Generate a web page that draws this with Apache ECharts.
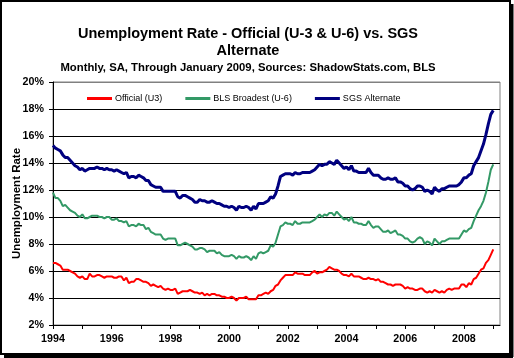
<!DOCTYPE html>
<html>
<head>
<meta charset="utf-8">
<script src="https://cdn.jsdelivr.net/npm/echarts@6/dist/echarts.min.js"></script>
<style>
html,body{margin:0;padding:0;background:#fff;}
#chart{width:514px;height:358px;}
</style>
</head>
<body>
<div id="chart"></div>
<script>
// Monthly data, Jan 1994 through Jan 2009
const startYear = 1994;
const seriesNames = ["Official (U3)", "BLS Broadest (U-6)", "SGS Alternate"];

const officialU3 = [
  6.6, 6.6, 6.5, 6.4, 6.1, 6.1, 6.1, 6.0, 5.9, 5.8, 5.6, 5.5,
  5.6, 5.4, 5.4, 5.8, 5.6, 5.6, 5.7, 5.7, 5.6, 5.5, 5.6, 5.6,
  5.6, 5.5, 5.5, 5.6, 5.6, 5.3, 5.5, 5.1, 5.2, 5.2, 5.4, 5.4,
  5.3, 5.2, 5.2, 5.1, 4.9, 5.0, 4.9, 4.8, 4.9, 4.7, 4.6, 4.7,
  4.6, 4.6, 4.7, 4.3, 4.4, 4.5, 4.5, 4.5, 4.6, 4.5, 4.4, 4.4,
  4.3, 4.4, 4.2, 4.3, 4.2, 4.3, 4.3, 4.2, 4.2, 4.1, 4.1, 4.0,
  4.0, 4.1, 4.0, 3.8, 4.0, 4.0, 4.0, 4.1, 3.9, 3.9, 3.9, 3.9,
  4.2, 4.2, 4.3, 4.4, 4.3, 4.5, 4.6, 4.9, 5.0, 5.3, 5.5, 5.7,
  5.7, 5.7, 5.7, 5.9, 5.8, 5.8, 5.8, 5.7, 5.7, 5.7, 5.9, 6.0,
  5.8, 5.9, 5.9, 6.0, 6.1, 6.3, 6.2, 6.1, 6.1, 6.0, 5.8, 5.7,
  5.7, 5.6, 5.8, 5.6, 5.6, 5.6, 5.5, 5.4, 5.4, 5.5, 5.4, 5.4,
  5.3, 5.4, 5.2, 5.2, 5.1, 5.0, 5.0, 4.9, 5.0, 5.0, 5.0, 4.9,
  4.7, 4.8, 4.7, 4.7, 4.6, 4.6, 4.7, 4.7, 4.5, 4.4, 4.5, 4.4,
  4.6, 4.5, 4.4, 4.5, 4.4, 4.6, 4.7, 4.6, 4.7, 4.7, 4.7, 5.0,
  5.0, 4.8, 5.1, 5.0, 5.4, 5.5, 5.8, 6.1, 6.2, 6.6, 6.8, 7.2,
  7.6
];

const broadestU6 = [
  11.8, 11.4, 11.4, 11.2, 10.8, 10.9, 10.7, 10.5, 10.4, 10.3, 10.1, 10.0,
  10.2, 9.9, 9.9, 10.0, 10.1, 10.1, 10.1, 10.0, 10.0, 9.9, 10.0, 10.0,
  9.8, 9.8, 9.9, 9.7, 9.7, 9.6, 9.7, 9.3, 9.4, 9.4, 9.3, 9.5,
  9.4, 9.4, 9.1, 9.2, 8.9, 8.8, 8.7, 8.7, 8.7, 8.4, 8.3, 8.4,
  8.4, 8.4, 8.4, 7.9, 7.9, 8.0, 8.1, 8.0, 7.9, 7.8, 7.6, 7.6,
  7.7, 7.7, 7.6, 7.4, 7.5, 7.5, 7.5, 7.3, 7.4, 7.2, 7.1, 7.1,
  7.1, 7.2, 7.1, 6.9, 7.1, 7.0, 7.0, 7.1, 7.0, 6.8, 7.1, 6.9,
  7.3, 7.4, 7.3, 7.4, 7.5, 7.9, 7.8, 8.1, 8.7, 9.3, 9.4, 9.6,
  9.5, 9.5, 9.4, 9.7, 9.5, 9.5, 9.6, 9.6, 9.6, 9.6, 9.7, 9.8,
  10.0, 10.2, 10.0, 10.2, 10.1, 10.3, 10.3, 10.1, 10.4, 10.2, 10.0, 9.8,
  9.9, 9.7, 10.0, 9.6, 9.6, 9.5, 9.5, 9.4, 9.4, 9.7, 9.4, 9.2,
  9.3, 9.3, 9.1, 8.9, 8.9, 9.0, 8.8, 8.9, 9.0, 8.7, 8.7, 8.6,
  8.4, 8.4, 8.2, 8.1, 8.2, 8.4, 8.5, 8.4, 8.0, 8.2, 8.1, 7.9,
  8.4, 8.2, 8.0, 8.2, 8.2, 8.3, 8.4, 8.4, 8.4, 8.4, 8.4, 8.7,
  9.0, 8.9, 9.1, 9.2, 9.7, 10.1, 10.5, 10.8, 11.2, 11.8, 12.6, 13.5,
  13.9
];

const sgsAlternate = [
  15.3, 15.1, 15.0, 14.9, 14.6, 14.4, 14.4, 14.2, 14.0, 13.8, 13.7, 13.5,
  13.6, 13.4, 13.5, 13.6, 13.6, 13.6, 13.7, 13.6, 13.6, 13.5, 13.6, 13.5,
  13.5, 13.4, 13.5, 13.4, 13.3, 13.2, 13.3, 12.9, 13.0, 13.0, 12.9, 13.1,
  13.0, 12.9, 12.7, 12.7, 12.4, 12.3, 12.2, 12.2, 12.2, 11.9, 11.9, 11.9,
  11.9, 11.9, 11.9, 11.5, 11.4, 11.6, 11.6, 11.5, 11.4, 11.3, 11.1, 11.1,
  11.3, 11.2, 11.2, 11.1, 11.1, 11.2, 11.1, 11.0, 11.0, 10.9, 10.8, 10.8,
  10.7, 10.8, 10.7, 10.5, 10.8, 10.7, 10.7, 10.8, 10.7, 10.5, 10.8, 10.6,
  11.0, 11.0, 11.0, 11.1, 11.2, 11.5, 11.4, 11.7, 12.3, 13.0, 13.1, 13.2,
  13.2, 13.2, 13.1, 13.3, 13.2, 13.2, 13.3, 13.3, 13.3, 13.3, 13.4, 13.5,
  13.7, 13.9, 13.8, 13.9, 13.9, 14.1, 14.0, 13.9, 14.2, 14.0, 13.8, 13.6,
  13.7, 13.5, 13.8, 13.4, 13.4, 13.3, 13.3, 13.3, 13.3, 13.6, 13.3, 13.1,
  13.1, 13.1, 12.9, 12.8, 12.8, 12.9, 12.8, 12.8, 12.9, 12.6, 12.6, 12.5,
  12.3, 12.3, 12.1, 12.0, 12.1, 12.3, 12.3, 12.2, 11.9, 12.0, 11.9, 11.7,
  12.2, 12.0, 11.9, 12.1, 12.1, 12.2, 12.3, 12.3, 12.3, 12.3, 12.4, 12.6,
  12.9, 12.9, 13.1, 13.2, 13.8, 14.1, 14.4, 14.9, 15.4, 16.1, 16.9, 17.6,
  17.9
];

const xTickYears = [1994,1995,1996,1997,1998,1999,2000,2001,2002,2003,2004,2005,2006,2007,2008,2009];
const xLabelYears = [1994,1996,1998,2000,2002,2004,2006,2008];
const yTicks = [2,4,6,8,10,12,14,16,18,20];

function toPoints(arr) {
  return arr.map((v, i) => [startYear + i / 12, v]);
}

const chart = echarts.init(document.getElementById('chart'), null, {renderer: 'canvas'});

const splitColors = yTicks.map((t, i) => i === yTicks.length - 1 ? '#808080' : '#000000');
const FONT = 'Arial, "Liberation Sans", sans-serif';

const option = {
  animation: false,
  backgroundColor: '#ffffff',
  textStyle: {fontFamily: FONT},
  grid: {left: 53, top: 82, right: 14, bottom: 33, containLabel: false, outerBoundsMode: 'none',
    show: true, borderColor: '#808080', borderWidth: 1, backgroundColor: '#ffffff'},
  legend: {
    left: 87, top: 94, itemGap: 23, itemWidth: 25, itemHeight: 3, padding: 0, icon: 'rect',
    textStyle: {fontSize: 9, color: '#000', fontFamily: FONT, padding: [0,0,0,-2]},
    data: seriesNames
  },
  xAxis: {
    type: 'value', min: 1994, max: 2009.23, interval: 1,
    axisLine: {show: true, onZero: false, lineStyle: {color: '#000', width: 1}},
    axisTick: {show: true, length: 4, customValues: xTickYears, lineStyle: {color: '#000'}},
    axisLabel: {customValues: xLabelYears, margin: 9, fontSize: 10.7, fontWeight: 'bold', color: '#000',
      fontFamily: FONT, formatter: v => String(Math.round(v))},
    splitLine: {show: false}
  },
  yAxis: {
    type: 'value', min: 2, max: 20, interval: 2,
    name: 'Unemployment Rate', nameLocation: 'middle', nameRotate: 90, nameGap: 30.5, nameMoveOverlap: false,
    nameTextStyle: {fontSize: 11.5, fontWeight: 'bold', color: '#000', fontFamily: FONT},
    axisLine: {show: true, lineStyle: {color: '#000', width: 1}},
    axisTick: {show: true, length: 4, lineStyle: {color: '#000'}},
    axisLabel: {margin: 9, fontSize: 10.7, fontWeight: 'bold', color: '#000',
      fontFamily: FONT, formatter: '{value}%'},
    splitLine: {show: true, lineStyle: {color: splitColors, width: 1}}
  },
  series: [
    {name: seriesNames[0], type: 'line', data: toPoints(officialU3), symbol: 'none', showSymbol: false,
      lineStyle: {color: '#ff0000', width: 2}, itemStyle: {color: '#ff0000'}, z: 3},
    {name: seriesNames[1], type: 'line', data: toPoints(broadestU6), symbol: 'none', showSymbol: false,
      lineStyle: {color: '#339966', width: 2}, itemStyle: {color: '#339966'}, z: 4},
    {name: seriesNames[2], type: 'line', data: toPoints(sgsAlternate), symbol: 'none', showSymbol: false,
      lineStyle: {color: '#000080', width: 3}, itemStyle: {color: '#000080'}, z: 5}
  ],
  graphic: [
    {type: 'rect', shape: {x: 1, y: 1, width: 509, height: 353}, style: {fill: 'none', stroke: '#000', lineWidth: 2}, z: 100, silent: true},
    {type: 'line', shape: {x1: 512, y1: 4, x2: 512, y2: 357}, style: {stroke: '#000', lineWidth: 3}, z: 100, silent: true},
    {type: 'line', shape: {x1: 4, y1: 356.5, x2: 513, y2: 356.5}, style: {stroke: '#000', lineWidth: 3}, z: 100, silent: true},
    {type: 'text', x: 248, y: 34, style: {text: 'Unemployment Rate - Official (U-3 & U-6) vs. SGS', fill: '#000',
      font: 'bold 14.5px Arial, "Liberation Sans", sans-serif', textAlign: 'center', textVerticalAlign: 'middle'}},
    {type: 'text', x: 248, y: 50.5, style: {text: 'Alternate', fill: '#000',
      font: 'bold 14.5px Arial, "Liberation Sans", sans-serif', textAlign: 'center', textVerticalAlign: 'middle'}},
    {type: 'text', x: 248, y: 68, style: {text: 'Monthly, SA, Through January 2009, Sources: ShadowStats.com, BLS', fill: '#000',
      font: 'bold 11.3px Arial, "Liberation Sans", sans-serif', textAlign: 'center', textVerticalAlign: 'middle'}}
  ]
};
chart.setOption(option);
</script>
</body>
</html>
